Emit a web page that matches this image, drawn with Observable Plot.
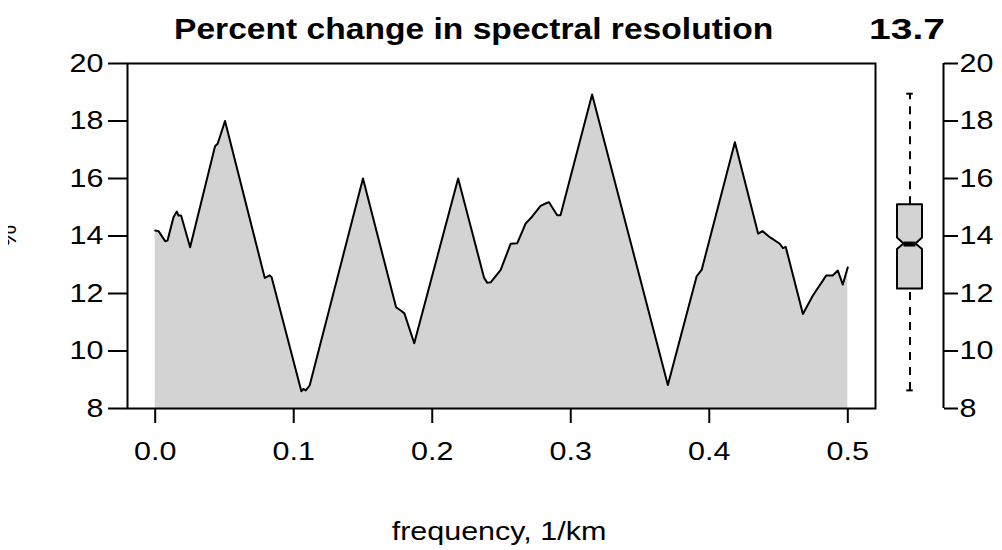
<!DOCTYPE html>
<html><head><meta charset="utf-8">
<script src="https://cdn.jsdelivr.net/npm/d3@7"></script>
<script src="https://cdn.jsdelivr.net/npm/@observablehq/plot@0.6"></script>
<style>
html,body{margin:0;padding:0;background:#fff;}
#chart{position:relative;width:1002px;height:550px;font-family:"Liberation Sans",Arial,sans-serif;}
#chart svg{position:absolute;top:0;overflow:visible;background:transparent;}
</style></head><body><div id="chart"></div>
<script>
// ---- data ----
const freq = [0.000,0.0024,0.0072,0.0089,0.0132,0.0156,0.0168,0.0187,0.0252,0.0432,0.0451,0.0504,
  0.0791,0.0827,0.0840,0.1055,0.1070,0.1087,0.1115,0.1500,0.1739,0.1775,0.1799,0.1870,0.2187,
  0.2374,0.2398,0.2422,0.2494,0.2566,0.2614,0.2674,0.2722,0.2782,0.2818,0.2842,0.2902,0.2926,
  0.3154,0.3701,0.3909,0.3945,0.4185,0.4353,0.4384,0.4437,0.4509,0.4532,0.4552,0.4676,0.4748,
  0.4845,0.4892,0.4928,0.4964,0.5000];
const change = [14.19,14.17,13.82,13.84,14.65,14.85,14.71,14.71,13.61,17.12,17.21,18.00,
  12.54,12.63,12.57,8.60,8.68,8.63,8.80,16.00,11.52,11.40,11.31,10.27,16.00,
  12.55,12.37,12.39,12.82,13.73,13.75,14.43,14.68,15.05,15.13,15.18,14.72,14.72,
  18.92,8.82,12.60,12.82,17.26,14.08,14.17,13.96,13.73,13.58,13.62,11.29,11.93,
  12.63,12.63,12.80,12.31,12.91];
const xTicks = [0,0.1,0.2,0.3,0.4,0.5];
const yTicks = [8,10,12,14,16,18,20];
const yDomain = [8,20];
const boxKeys = ["min","lower hinge","median","upper hinge","max"];
const boxValues = [8.63,12.16,13.72,15.09,18.95];
const notchValues = [13.53,13.93];
const titleText = "Percent change in spectral resolution";
const xLabel = "frequency, 1/km";
const yLabel = "%";

// ---- layout ----
const W = 1002, H = 550, mT = 63, mB = 142, mL = 127, mR = 127;
const FONT = '"Liberation Sans", Arial, sans-serif';
const container = document.getElementById("chart");
const [bMin, bQ1, bMed, bQ3, bMax] = boxValues;

const data = freq.map((f,i)=>({f, v: change[i]}));

const main = Plot.plot({
  width: W, height: H, marginLeft: mL, marginRight: mR, marginTop: mT, marginBottom: mB,
  style: {fontSize: "25px", fontFamily: FONT, background: "transparent", color: "black"},
  x: {domain: [-0.02, 0.52], label: null},
  y: {domain: yDomain, label: null},
  marks: [
    Plot.areaY(data, {x: "f", y1: yDomain[0], y2: "v", fill: "#d3d3d3"}),
    Plot.lineY(data, {x: "f", y: "v", stroke: "black", strokeWidth: 2}),
    Plot.frame({stroke: "black", strokeWidth: 2}),
    Plot.axisX({ticks: xTicks, tickFormat: d3.format(".1f"), tickSize: 15, tickPadding: 19, strokeWidth: 2, label: null}),
    Plot.axisY({ticks: yTicks, tickSize: 19, tickPadding: 5, strokeWidth: 2, label: null})
  ]
});
main.style.left = "0px";
container.appendChild(main);

// boxplot inset
const boxRows = [
  {y: bQ1, x1: -0.5, x2: 0.5},
  {y: notchValues[0], x1: -0.5, x2: 0.5},
  {y: bMed, x1: -0.24, x2: 0.24},
  {y: notchValues[1], x1: -0.5, x2: 0.5},
  {y: bQ3, x1: -0.5, x2: 0.5}
];
const insetDomain = [-1.26, 1.34];
const inset = Plot.plot({
  width: 124, height: H, marginLeft: 0, marginRight: 59, marginTop: mT, marginBottom: mB,
  style: {fontSize: "25px", fontFamily: FONT, background: "transparent", color: "black"},
  x: {domain: insetDomain, axis: null},
  y: {domain: yDomain, label: null},
  marks: [
    Plot.ruleX([0], {y1: bQ3, y2: bMax, stroke: "black", strokeWidth: 2, strokeDasharray: "8,7"}),
    Plot.ruleX([0], {y1: bMin, y2: bQ1, stroke: "black", strokeWidth: 2, strokeDasharray: "8,7"}),
    Plot.ruleY([bMin, bMax], {x1: -0.13, x2: 0.13, stroke: "black", strokeWidth: 2}),
    Plot.areaX(boxRows, {y: "y", x1: "x1", x2: "x2", fill: "#d3d3d3", stroke: "black", strokeWidth: 2}),
    Plot.ruleY([bMed], {x1: -0.24, x2: 0.24, stroke: "black", strokeWidth: 5}),
    Plot.ruleX([insetDomain[1]], {y1: yDomain[0], y2: yDomain[1], stroke: "black", strokeWidth: 2}),
    Plot.axisY({anchor: "right", ticks: yTicks, tickSize: 14, tickPadding: 2, strokeWidth: 2, label: null})
  ]
});
inset.style.left = "878px";
container.appendChild(inset);

// overlay texts
const ov = d3.select(container).append("svg")
  .attr("width", W).attr("height", H).style("left", "0px")
  .style("font-family", FONT);
ov.append("text").attr("class","s-title").attr("x", 174).attr("y", 39)
  .attr("font-size", 30).attr("font-weight", "bold").attr("text-anchor", "start").text(titleText);
ov.append("text").attr("class","s-val").attr("x", 945).attr("y", 39)
  .attr("font-size", 30).attr("font-weight", "bold").attr("text-anchor", "end")
  .text(d3.format(".1f")(bMed));
ov.append("text").attr("class","s-reg").attr("x", 499).attr("y", 540)
  .attr("font-size", 25).attr("text-anchor", "middle").text(xLabel);
ov.append("clipPath").attr("id", "ylabclip").append("rect")
  .attr("x", 8).attr("y", 190).attr("width", 20).attr("height", 90);
ov.append("g").attr("clip-path", "url(#ylabclip)")
  .append("text").attr("transform", "translate(15.5,236) rotate(-90)")
  .attr("font-size", 25).attr("text-anchor", "middle").text(yLabel);

// horizontal stretch of glyphs to match reference proportions
function stretch(el, k) {
  const b = el.getBBox();
  const a = getComputedStyle(el).textAnchor;
  const ax = a === "end" ? b.x + b.width : a === "middle" ? b.x + b.width / 2 : b.x;
  const prev = el.getAttribute("transform") || "";
  el.setAttribute("transform", `${prev} translate(${ax},0) scale(${k},1) translate(${-ax},0)`);
}
[main, inset].forEach(s => s.querySelectorAll("text").forEach(t => stretch(t, 1.22)));
ov.selectAll("text.s-reg").each(function(){ stretch(this, 1.22); });
ov.selectAll("text.s-title").each(function(){ stretch(this, 1.12); });
ov.selectAll("text.s-val").each(function(){ stretch(this, 1.3); });
</script></body></html>
